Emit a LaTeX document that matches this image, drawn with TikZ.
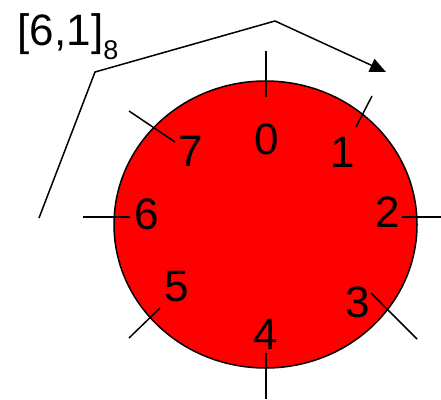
\documentclass[tikz,border=0pt]{standalone}
\usepackage{fontspec}
\setmainfont{Liberation Sans}
\usetikzlibrary{arrows.meta}

\begin{document}
\begin{tikzpicture}[x=1pt, y=-1pt, line width=1.5pt,
    digit/.style={font=\fontsize{44}{44}\selectfont, inner sep=0pt}]
    \useasboundingbox (0,0) rectangle (441,399);
    \draw[fill=red] (265.5,224.5) ellipse [x radius=151.5pt, y radius=143.5pt];
    % ticks
    \foreach \a/\b/\c/\d in {266/51/266/97, 266/353/266/399, 83/217/130/217, 402/217/441/217,
                            372/96/356/127, 129/111/175/142, 371/293/417/339, 160/308/129/338}
        \draw (\a,\b) -- (\c,\d);
    % positions
    \foreach \n/\x/\y in {0/267/139, 1/343/152, 2/388/212, 3/358/302,
                          4/266/334, 5/177/287, 6/147/214, 7/191/151}
        \node[digit] (pos\n) at (\x,\y) {\n};
    \node[digit, anchor=base west] (range) at (17,45)
        {[6,1]\raisebox{-14pt}{\fontsize{27}{27}\selectfont 8}};
    \coordinate (start) at (39,218);
    \coordinate (bendA) at (95,72);
    \coordinate (bendB) at (275,21);
    \coordinate (stop) at (386,72);
    \draw[-{Triangle[length=16pt,width=14pt]}] (start) -- (bendA) -- (bendB) -- (stop);
\end{tikzpicture}
\end{document}
